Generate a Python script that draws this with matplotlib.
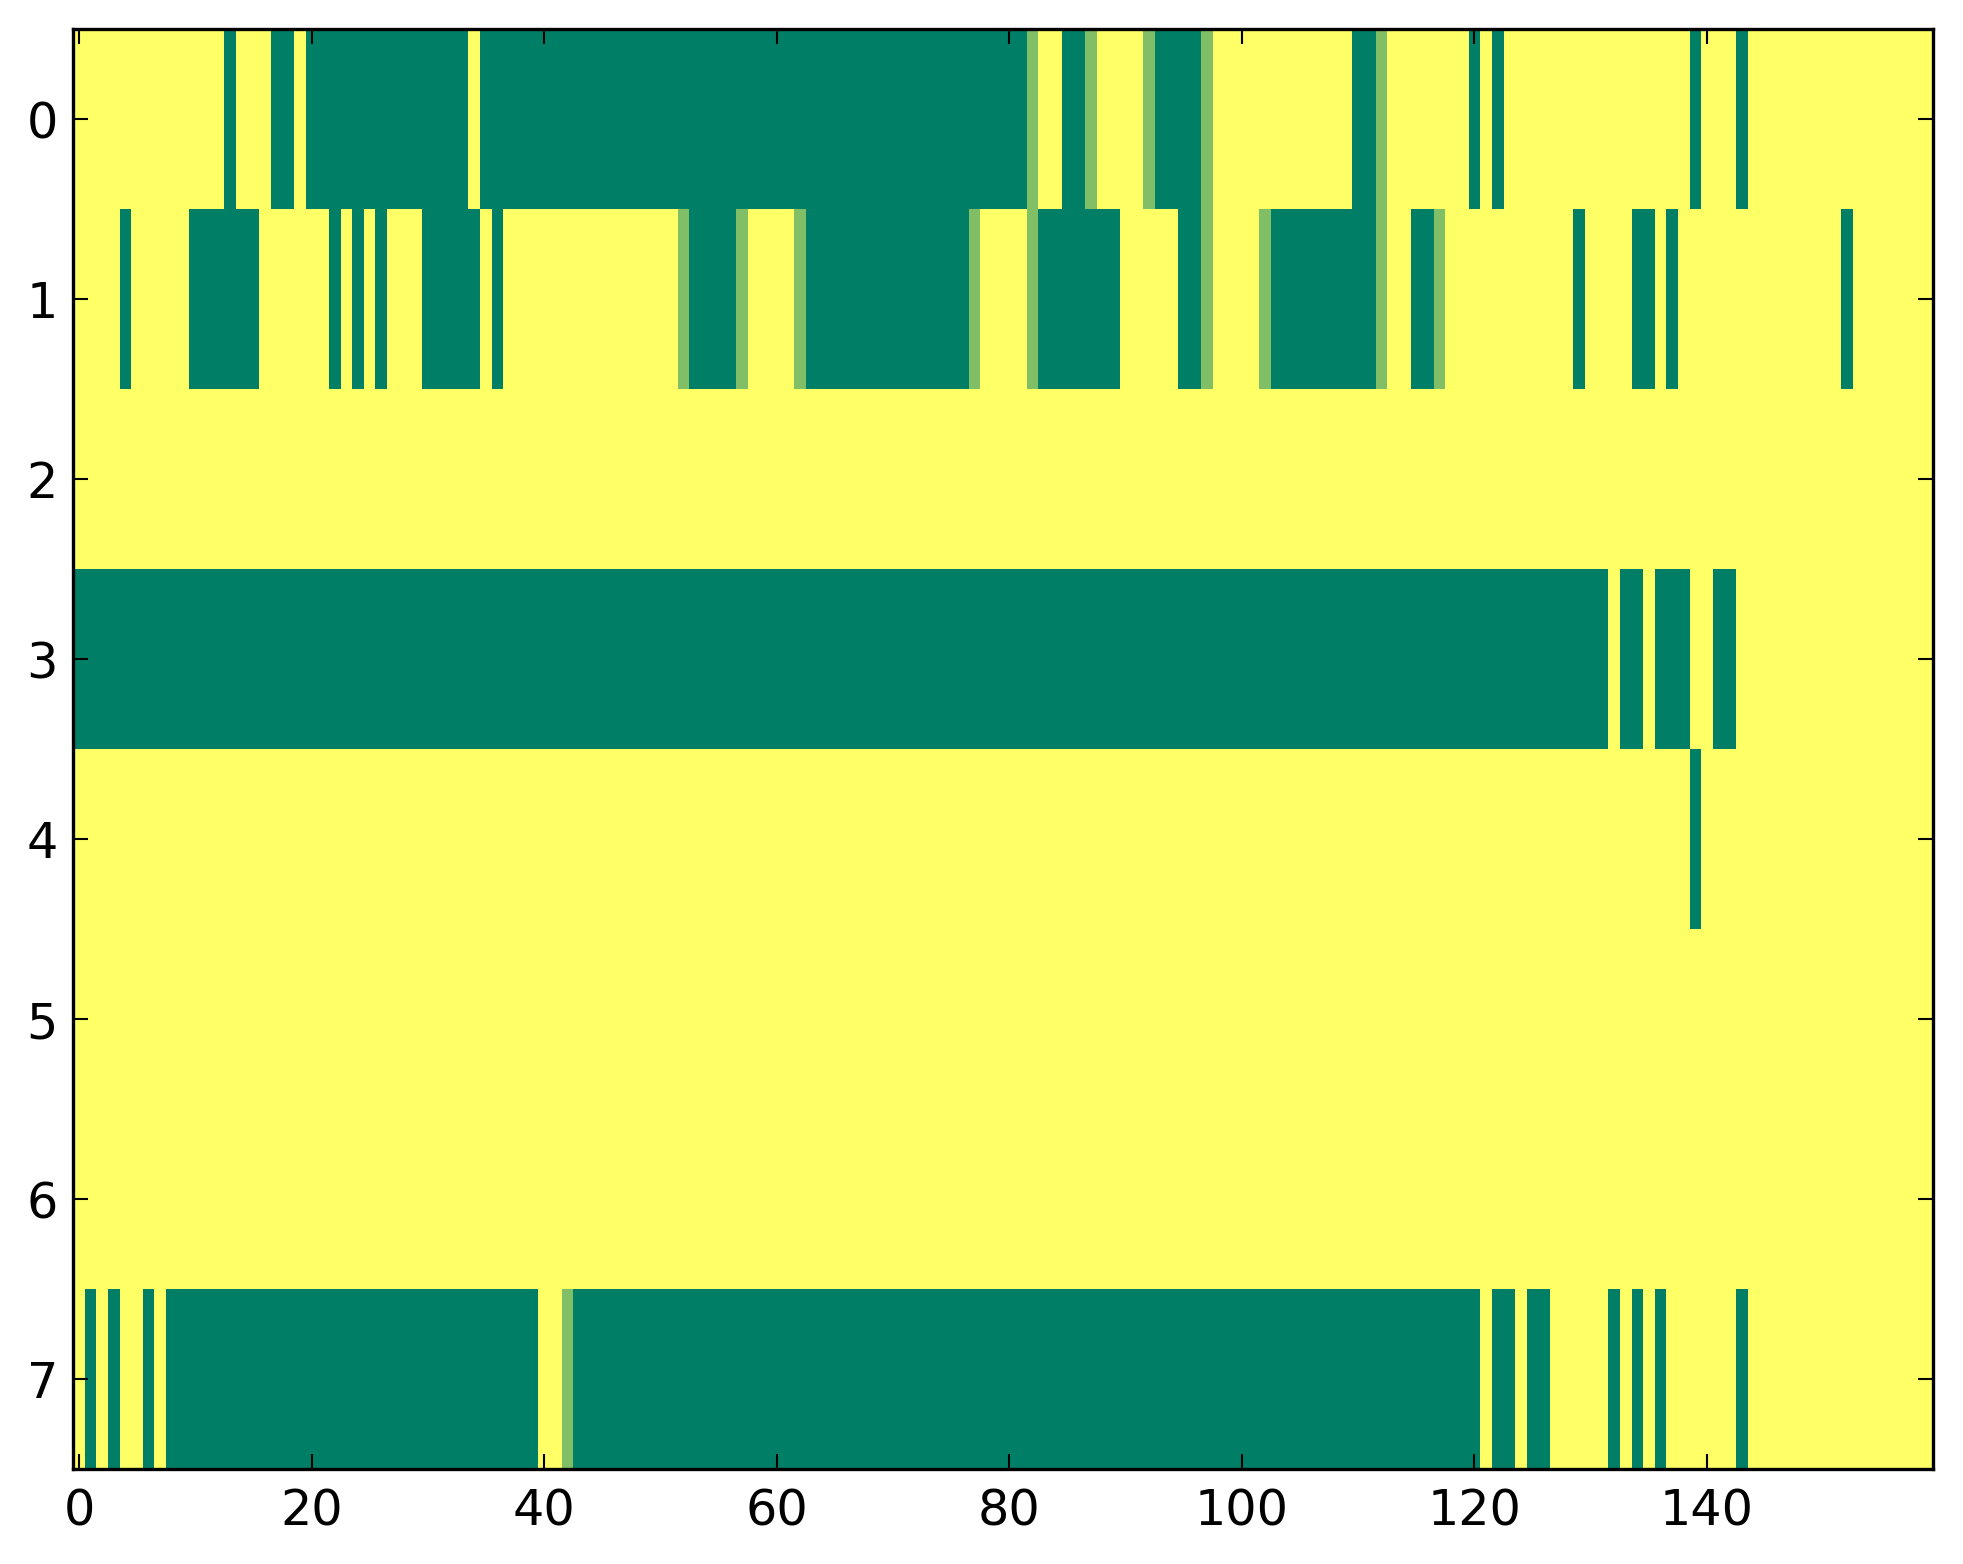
import numpy as np
import matplotlib
matplotlib.use('Agg')
import matplotlib.pyplot as plt

# cell levels: g = 0 (dark green), h = 0.5 (mid green), y = 1 (yellow)
lev = {'g': 0.0, 'h': 0.5, 'y': 1.0}

# run lengths per row, read left to right (160 columns each)
row0 = [(13,'y'),(1,'g'),(3,'y'),(2,'g'),(1,'y'),(14,'g'),(1,'y'),(47,'g'),
        (1,'h'),(2,'y'),(2,'g'),(1,'h'),(4,'y'),(1,'h'),(4,'g'),(1,'h'),
        (12,'y'),(2,'g'),(1,'h'),(7,'y'),(1,'g'),(1,'y'),(1,'g'),(16,'y'),
        (1,'g'),(3,'y'),(1,'g'),(16,'y')]
row1 = [(4,'y'),(1,'g'),(5,'y'),(6,'g'),(6,'y'),(1,'g'),(1,'y'),(1,'g'),
        (1,'y'),(1,'g'),(3,'y'),(5,'g'),(1,'y'),(1,'g'),(15,'y'),(1,'h'),
        (4,'g'),(1,'h'),(4,'y'),(1,'h'),(14,'g'),(1,'h'),(4,'y'),(1,'h'),
        (7,'g'),(5,'y'),(2,'g'),(1,'h'),(4,'y'),(1,'h'),(9,'g'),(1,'h'),
        (2,'y'),(2,'g'),(1,'h'),(11,'y'),(1,'g'),(4,'y'),(2,'g'),(1,'y'),
        (1,'g'),(14,'y'),(1,'g'),(7,'y')]
row2 = [(160,'y')]
row3 = [(132,'g'),(1,'y'),(2,'g'),(1,'y'),(3,'g'),(2,'y'),(2,'g'),(17,'y')]
row4 = [(139,'y'),(1,'g'),(20,'y')]
row5 = [(160,'y')]
row6 = [(160,'y')]
row7 = [(1,'y'),(1,'g'),(1,'y'),(1,'g'),(2,'y'),(1,'g'),(1,'y'),(32,'g'),
        (2,'y'),(1,'h'),(78,'g'),(1,'y'),(2,'g'),(1,'y'),(2,'g'),(5,'y'),
        (1,'g'),(1,'y'),(1,'g'),(1,'y'),(1,'g'),(6,'y'),(1,'g'),(16,'y')]

rows = [row0, row1, row2, row3, row4, row5, row6, row7]

def expand(runs):
    vals = []
    for n, c in runs:
        vals += [lev[c]] * n
    return vals

data = np.array([expand(r) for r in rows])

fig = plt.figure(figsize=(19.63, 15.64), dpi=100)
ax = fig.add_axes([0.0373, 0.0607, 0.9476, 0.9207])
ax.imshow(data, cmap='summer', vmin=0, vmax=1, aspect='auto',
          interpolation='nearest')

ax.set_xticks(range(0, 160, 20))
ax.set_yticks(range(0, 8))
ax.tick_params(direction='in', top=True, right=True, length=11, width=1.5,
               labelsize=35.5)
ax.tick_params(axis='x', pad=13)
ax.tick_params(axis='y', pad=11)
for s in ax.spines.values():
    s.set_linewidth(2.4)

fig.savefig('out.png', dpi=100)
